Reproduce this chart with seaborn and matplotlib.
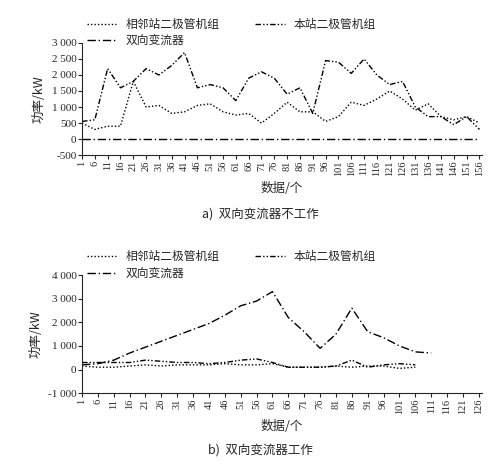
import numpy as np
import pandas as pd
import matplotlib
matplotlib.use("Agg")
import matplotlib.pyplot as plt
import seaborn as sns

sns.set_style("ticks")
plt.rcParams['font.family'] = ['Noto Sans CJK SC', 'DejaVu Sans']

# ===== datos (a) =====
x_a = list(range(1, 157, 5))
vecino_a = [500, 300, 400, 400, 1800, 1000, 1050, 800, 850, 1050, 1100, 850, 750, 800, 500, 800,
            1150, 850, 850, 550, 700, 1150, 1050, 1250, 1500, 1250, 900, 1100, 700, 600, 700, 500]
local_a = [550, 600, 2200, 1600, 1800, 2200, 2000, 2300, 2700, 1600, 1700, 1600, 1200, 1900, 2100, 1900,
           1400, 1600, 800, 2450, 2400, 2050, 2500, 2000, 1700, 1800, 1000, 700, 700, 450, 700, 300]
conv_a = [0] * len(x_a)

# ===== datos (b) =====
x_b = list(range(1, 112, 5))
conv_b = [200, 250, 400, 700, 950, 1200, 1450, 1700, 1950, 2300, 2700, 2900, 3300, 2200, 1600, 900,
          1500, 2600, 1600, 1350, 1000, 750, 700]
vecino_b = [150, 100, 100, 150, 200, 150, 200, 200, 200, 250, 200, 200, 250, 100, 100, 100,
            150, 100, 150, 150, 50, 100]
local_b = [300, 300, 300, 300, 400, 350, 300, 300, 250, 300, 400, 450, 300, 100, 100, 100,
           150, 400, 100, 200, 250, 200]

etiquetas = ["相邻站二极管机组", "本站二极管机组", "双向变流器"]
estilos = [(0, (1, 1.5)), (0, (4, 1.5, 1, 1.5, 1, 1.5)), (0, (6, 2, 1, 2))]

fig = plt.figure(figsize=(5, 4.67), dpi=100)


def fmt(v):
    return f"{int(v):,}".replace(",", " ")


def dibujar(ax, series, yticks, xmax, xlims):
    for (xx, yy), lab, ls in zip(series, etiquetas, estilos):
        sns.lineplot(x=xx[:len(yy)], y=yy, ax=ax, color="black", lw=1.0, linestyle=ls, label=lab)
    ax.set_ylim(yticks[0], yticks[-1])
    ax.set_yticks(yticks)
    ax.set_yticklabels([fmt(v) for v in yticks], fontsize=8, family=['Liberation Serif'])
    ticks = list(range(1, xmax + 1, 5))
    ax.set_xticks(ticks)
    ax.set_xticklabels([str(t) for t in ticks], rotation=90, fontsize=7.5, family=['Liberation Serif'])
    ax.set_xlim(*xlims)
    ax.set_xlabel("数据/个", fontsize=9)
    ax.set_ylabel("功率/kW", fontsize=9)
    ax.tick_params(length=3, pad=1)
    sns.despine(ax=ax)
    h, l = ax.get_legend_handles_labels()
    orden = [0, 2, 1]
    ax.legend([h[i] for i in orden], [l[i] for i in orden], loc="lower left",
              bbox_to_anchor=(0.0, 0.92), ncol=2, frameon=False, fontsize=8.5,
              handlelength=2.5, columnspacing=3, borderaxespad=0, labelspacing=0.3)


ax1 = fig.add_axes([0.164, 0.668, 0.80, 0.24])
dibujar(ax1, [(x_a, vecino_a), (x_a, local_a), (x_a, conv_a)],
        list(range(-500, 3001, 500)), 156, (1, 157))
fig.text(0.52, 0.535, "a)  双向变流器不工作", ha="center", fontsize=9)

ax2 = fig.add_axes([0.164, 0.158, 0.80, 0.253])
dibujar(ax2, [(x_b, vecino_b), (x_b, local_b), (x_b, conv_b)],
        list(range(-1000, 4001, 1000)), 126, (1, 127))
fig.text(0.52, 0.028, "b)  双向变流器工作", ha="center", fontsize=9)

plt.savefig("out.png", dpi=100)
